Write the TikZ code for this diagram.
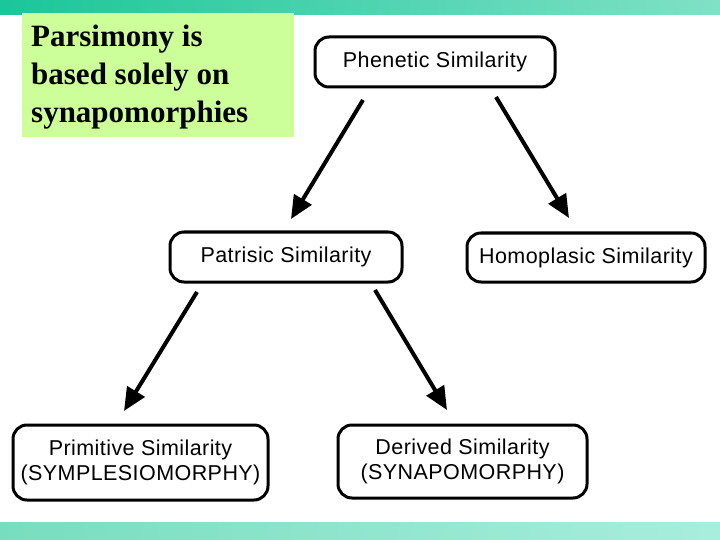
\documentclass[tikz,border=0pt]{standalone}
\usepackage{fontspec}
\setmainfont{Liberation Serif}
\newfontfamily\boxfont{Liberation Sans}[LetterSpace=2]
\usetikzlibrary{arrows.meta}
\definecolor{topL}{HTML}{1BC69A}
\definecolor{topR}{HTML}{80E1C5}
\definecolor{botL}{HTML}{78DDBE}
\definecolor{botR}{HTML}{A8EEDD}
\definecolor{notegreen}{HTML}{CCFF99}
\begin{document}
\begin{tikzpicture}[x=1pt,y=-1pt,
  simbox/.style={draw=black, line width=3pt, rounded corners=14pt, inner sep=0pt,
    font=\boxfont\fontsize{21.5}{25.5}\selectfont, align=center},
  notetext/.style={anchor=base west, inner sep=0pt,
    font=\bfseries\fontsize{31}{38}\selectfont},
  bigarrow/.style={line width=4pt, -{Triangle[length=23pt,width=20pt]}}]
\useasboundingbox (0,0) rectangle (720,540);
\fill[white] (0,0) rectangle (720,540);
\shade[left color=topL, right color=topR] (0,0) rectangle (720,15);
\shade[left color=botL, right color=botR] (0,522) rectangle (720,540);
% note box
\node[fill=notegreen, minimum width=272pt, minimum height=124pt, inner sep=0pt, anchor=north west] (note) at (22,13) {};
\node[notetext] (n1) at (31,47) {Parsimony is};
\node[notetext] (n2) at (31,85) {based solely on};
\node[notetext] (n3) at (31,123) {synapomorphies};
% boxes
\node[simbox, minimum width=240pt, minimum height=50pt] (phen) at (435,62) {Phenetic Similarity};
\node[simbox, minimum width=232pt, minimum height=50pt] (patr) at (286,257) {Patrisic Similarity};
\node[simbox, minimum width=238pt, minimum height=49pt] (homo) at (586,257.5) {Homoplasic Similarity};
\node[simbox, minimum width=255pt, minimum height=75pt] (prim) at (140.5,462.5) {Primitive Similarity\\(SYMPLESIOMORPHY)};
\node[simbox, minimum width=249pt, minimum height=73pt] (deri) at (462.5,461.5) {Derived Similarity\\(SYNAPOMORPHY)};
% arrow ends
\coordinate (a1s) at (363,100); \coordinate (a1e) at (291,219);
\coordinate (a2s) at (496,97);  \coordinate (a2e) at (569,218);
\coordinate (a3s) at (197,292); \coordinate (a3e) at (124,411);
\coordinate (a4s) at (375,290); \coordinate (a4e) at (447,410);
\draw[bigarrow] (a1s) -- (a1e);
\draw[bigarrow] (a2s) -- (a2e);
\draw[bigarrow] (a3s) -- (a3e);
\draw[bigarrow] (a4s) -- (a4e);
\end{tikzpicture}
\end{document}
